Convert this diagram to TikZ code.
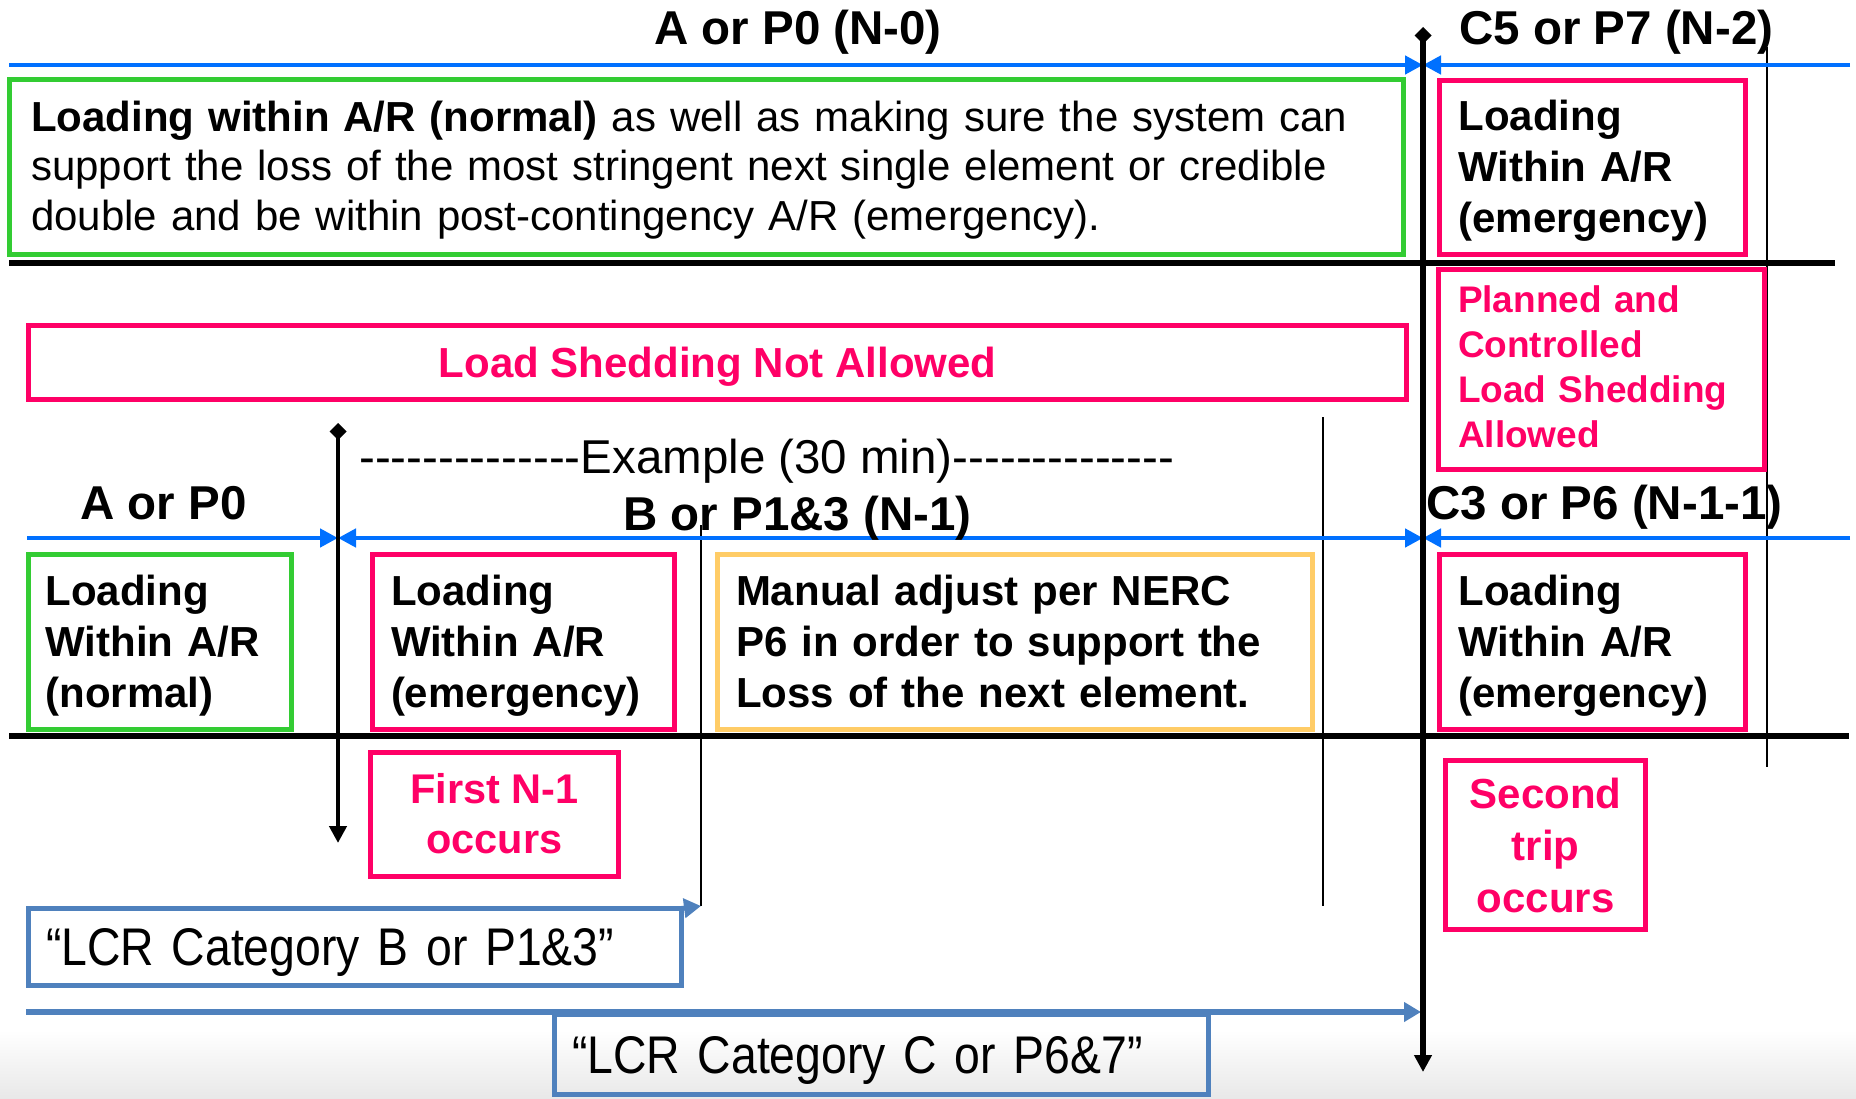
\documentclass[tikz,border=0pt]{standalone}
\usepackage{fontspec}
\setmainfont{Liberation Sans}
\newfontfamily\nolig{Liberation Sans}
\newfontfamily\lcrfont{Liberation Sans}[FakeStretch=0.875]
\usetikzlibrary{arrows.meta}
\definecolor{pinkc}{RGB}{255,0,102}
\definecolor{greenc}{RGB}{51,204,51}
\definecolor{orangec}{RGB}{255,204,102}
\definecolor{bluec}{RGB}{0,112,255}
\definecolor{lcrblue}{RGB}{79,129,189}
\newcommand{\tstrut}[1]{\rule{0pt}{#1}}
\newcommand{\bstrut}[1]{\rule[-#1]{0pt}{#1}}
\tikzset{
  box/.style={draw, line width=5pt, inner xsep=0pt, inner ysep=0pt, outer sep=0pt},
  oneline/.style={text depth=0pt},
  bigtxt/.style={font=\fontsize{42}{51}\selectfont\bfseries},
  hdr/.style={font=\fontsize{47.5}{57}\selectfont\bfseries, inner sep=0pt},
  bline/.style={draw=bluec, line width=4.5pt},
  btip/.style={-{Triangle[length=18pt,width=18pt]}},
  kline/.style={draw=black, line width=5.5pt},
  thin/.style={draw=black, line width=1.6pt},
  lcrbox/.style={box, oneline, draw=lcrblue, font=\lcrfont\fontsize{53}{60}\selectfont, align=left},
  lcrline/.style={draw=lcrblue, line width=6pt, -{Triangle[length=17pt,width=19pt]}}
}
\begin{document}
\begin{tikzpicture}[x=1pt,y=-1pt]
\useasboundingbox (0,0) rectangle (1856,1099);
\fill[top color=white, bottom color=black!9] (0,1030) rectangle (1856,1099);

% coordinates of axes
\coordinate (r1l) at (9,65);
\coordinate (r1m) at (1423,65);
\coordinate (r1r) at (1850,65);
\coordinate (r2l) at (27,538);
\coordinate (r2a) at (338,538);
\coordinate (r2b) at (1423,538);
\coordinate (r2r) at (1850,538);
\coordinate (ax1top) at (1423,27);
\coordinate (ax1bot) at (1423,1072);
\coordinate (ax2top) at (338,423);
\coordinate (ax2bot) at (338,843);
\coordinate (h1l) at (9,263);
\coordinate (h1r) at (1835,263);
\coordinate (h2l) at (9,736);
\coordinate (h2r) at (1849,736);
\coordinate (v1t) at (701,525);
\coordinate (v1b) at (701,906);
\coordinate (v2t) at (1323,417);
\coordinate (v2b) at (1323,906);
\coordinate (v3t) at (1767,47);
\coordinate (v3b) at (1767,767);
\coordinate (lcrcl) at (26,1012);
\coordinate (lcrcr) at (1421,1012);

% thin guide lines
\draw[thin] (v1t) -- (v1b);
\draw[thin] (v2t) -- (v2b);
\draw[thin] (v3t) -- (v3b);

% horizontal black lines
\draw[kline] (h1l) -- (h1r);
\draw[kline] (h2l) -- (h2r);

% blue timelines
\draw[bline, btip] (r1l) -- (r1m);
\draw[bline, btip] (r1r) -- (r1m);
\draw[bline, btip] (r2l) -- (r2a);
\draw[bline, {Triangle[length=18pt,width=18pt]}-{Triangle[length=18pt,width=18pt]}] (r2a) -- (r2b);
\draw[bline, btip] (r2r) -- (r2b);

% boxes
\node[box, draw=greenc, minimum width=1394pt, minimum height=175pt, text width=1351pt, align=left,
      font=\fontsize{42}{49.5}\selectfont] (gtop) at (706.5,167)
  {\tstrut{40pt}{\bfseries Loading within A/R (normal)} as well as making sure the system can\\
   support the loss of the most stringent next single element or credible\\
   double and be within post-contingency A/R (emergency).\bstrut{12pt}};
\node[box, bigtxt, draw=pinkc, minimum width=306pt, minimum height=174pt, text width=268pt, align=left]
  (etop) at (1592.5,167.5) {\tstrut{40pt}Loading\\Within A/R\\(emergency)\bstrut{12pt}};
\node[box, draw=pinkc, text=pinkc, minimum width=326pt, minimum height=200pt, text width=287pt, align=left,
      font=\fontsize{37}{45}\selectfont\bfseries]
  (plan) at (1601.5,369.5) {\tstrut{34pt}Planned and\\Controlled\\Load Shedding\\Allowed\bstrut{12pt}};
\node[box, bigtxt, oneline, draw=pinkc, text=pinkc, minimum width=1378pt, minimum height=74pt]
  (lsna) at (717.5,362.5) {Load Shedding Not Allowed};
\node[box, bigtxt, draw=greenc, minimum width=263pt, minimum height=175pt, text width=229pt, align=left]
  (gnorm) at (160,642) {\tstrut{40pt}Loading\\Within A/R\\(normal)\bstrut{12pt}};
\node[box, bigtxt, draw=pinkc, minimum width=302pt, minimum height=175pt, text width=265pt, align=left]
  (emid) at (523.5,642) {\tstrut{40pt}Loading\\Within A/R\\(emergency)\bstrut{12pt}};
\node[box, bigtxt, draw=orangec, minimum width=595pt, minimum height=175pt, text width=558pt, align=left]
  (man) at (1015,642) {\tstrut{40pt}Manual adjust per NERC\\P6 in order to support the\\Loss of the next element.\bstrut{12pt}};
\node[box, bigtxt, draw=pinkc, minimum width=306pt, minimum height=175pt, text width=268pt, align=left]
  (eright) at (1592.5,642) {\tstrut{40pt}Loading\\Within A/R\\(emergency)\bstrut{12pt}};
\node[box, draw=pinkc, text=pinkc, minimum width=248pt, minimum height=124pt, align=center,
      font=\fontsize{41.5}{50}\selectfont\bfseries]
  (first) at (494.5,814.5) {\tstrut{39pt}First N-1\\occurs\bstrut{12pt}};
\node[box, draw=pinkc, text=pinkc, minimum width=200pt, minimum height=169pt, align=center,
      font=\fontsize{42}{52}\selectfont\bfseries]
  (second) at (1545.5,845) {\tstrut{42pt}Second\\trip\\occurs\bstrut{12pt}};
\node[lcrbox, minimum width=653pt, minimum height=77pt, text width=618pt] (lcrb) at (355,947)
  {“LCR Category B or P1\&3”};
\node[lcrbox, minimum width=654pt, minimum height=80pt, text width=619pt] (lcrc) at (881.5,1054.5)
  {“LCR Category C or P6\&7”};

% LCR arrows
\coordinate (lcrbtip) at (701,906);
\draw[lcrline, line width=5pt] (lcrb.north east) -- (lcrbtip);
\draw[lcrline] (lcrcl) -- (lcrcr);

% black vertical axes
\draw[line width=6pt, {Diamond[length=17pt,width=17pt]}-{Triangle[length=17pt,width=17pt]}] (ax1top) -- (ax1bot);
\draw[line width=4.5pt, {Diamond[length=17pt,width=17pt]}-{Triangle[length=17pt,width=17pt]}] (ax2top) -- (ax2bot);

% headers
\node[hdr, anchor=base] (t0) at (798,45) {A or P0 (N-0)};
\node[hdr, anchor=base west] (t1) at (1459,45) {C5 or P7 (N-2)};
\node[hdr, anchor=base west] (t2) at (80,519) {A or P0};
\node[hdr, anchor=base west] (t3) at (623,530) {B or P1\&3 (N-1)};
\node[hdr, anchor=base west] (t4) at (1426,519) {C3 or P6 (N-1-1)};
\node[anchor=base west, inner sep=0pt, font=\nolig\fontsize{47.5}{57}\selectfont] (ex) at (359,473)
  {--------------Example (30 min)--------------};
\end{tikzpicture}
\end{document}
